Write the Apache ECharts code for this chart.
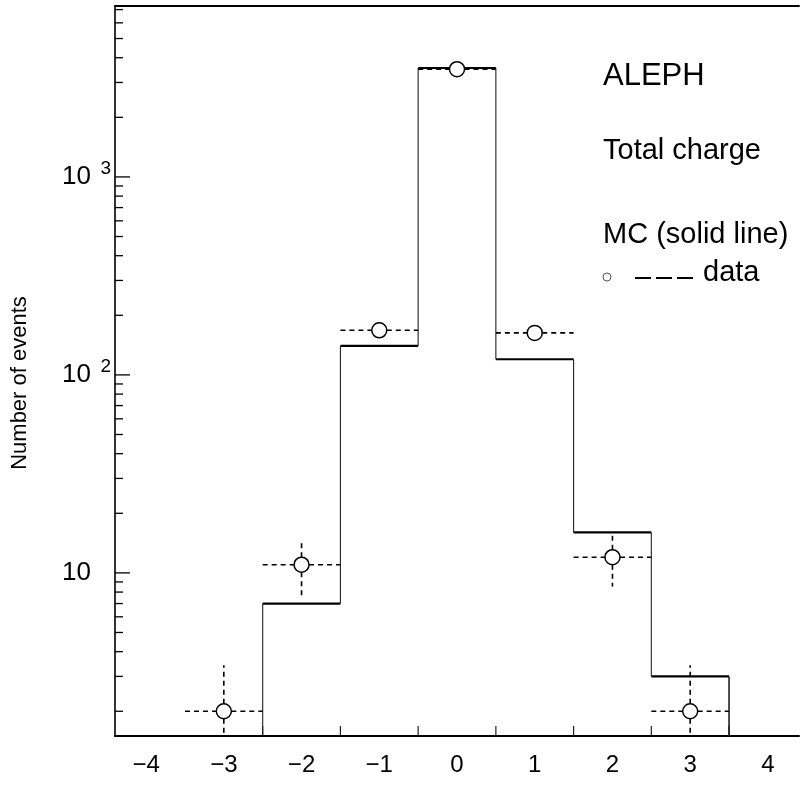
<!DOCTYPE html>
<html>
<head>
<meta charset="utf-8">
<script src="https://cdn.jsdelivr.net/npm/echarts@6/dist/echarts.min.js"></script>
<style>
  html, body { margin: 0; padding: 0; background: #fff; }
  #chart { width: 802px; height: 790px; }
</style>
</head>
<body>
<div id="chart"></div>
<script>
// Total charge distribution, one bin per integer charge
const binCenters = [-3, -2, -1, 0, 1, 2, 3];
const mcCounts   = [null, 7, 140, 3550, 120, 16, 3];   // MC histogram (solid line)
const dataCounts = [2, 11, 168, 3500, 163, 12, 2];      // measured events (circles, dashed)

// Axis ranges and tick positions
const X_MIN = -4.4, X_MAX = 4.4;
const Y_MIN = 1.5, Y_MAX = 7300;
const xTickValues = [-2.5, -1.5, -0.5, 0.5, 1.5, 2.5, 3.5];
const yMajorTicks = [10, 100, 1000];
const yMinorTicks = [2, 3, 4, 5, 6, 7, 8, 9,
                     20, 30, 40, 50, 60, 70, 80, 90,
                     200, 300, 400, 500, 600, 700, 800, 900,
                     2000, 3000, 4000, 5000, 6000, 7000];

const FONT = "'Liberation Sans', Arial, sans-serif";
const INK = '#000';

const chart = echarts.init(document.getElementById('chart'), null, { renderer: 'canvas' });

function isPow10(v) {
  const l = Math.log10(v);
  return Math.abs(l - Math.round(l)) < 1e-6;
}

// MC histogram: thick bin tops, thin risers between neighbouring bins
const mcBins = [];
binCenters.forEach((c, i) => { if (mcCounts[i] != null) mcBins.push(i); });

function renderMC(params, api) {
  const i = mcBins[params.dataIndex];
  const c = binCenters[i];
  const v = mcCounts[i];
  const leftV = (i > 0 && mcCounts[i - 1] != null) ? mcCounts[i - 1] : Y_MIN;
  const isLast = params.dataIndex === mcBins.length - 1;
  const a = api.coord([c - 0.5, v]);
  const b = api.coord([c + 0.5, v]);
  const children = [
    { type: 'line', shape: { x1: a[0], y1: a[1], x2: b[0], y2: b[1] },
      style: { stroke: INK, lineWidth: 2.2 } },
  ];
  const l0 = api.coord([c - 0.5, leftV]);
  children.push({ type: 'line', shape: { x1: a[0], y1: a[1], x2: l0[0], y2: l0[1] },
    style: { stroke: '#222', lineWidth: 1.1 } });
  if (isLast) {
    const r0 = api.coord([c + 0.5, Y_MIN]);
    children.push({ type: 'line', shape: { x1: b[0], y1: b[1], x2: r0[0], y2: r0[1] },
      style: { stroke: '#111', lineWidth: 1.5 } });
  }
  return { type: 'group', children };
}

// Data points: circle, dashed bin-width bar and dashed sqrt(N) error bar
function renderData(params, api) {
  const c = api.value(0);
  const n = api.value(1);
  const err = Math.sqrt(n);
  const r = 7.5;
  const p = api.coord([c, n]);
  const lft = api.coord([c - 0.5, n]);
  const rgt = api.coord([c + 0.5, n]);
  const top = api.coord([c, Math.min(n + err, Y_MAX)]);
  const bot = api.coord([c, Math.max(n - err, Y_MIN)]);
  const dash = { stroke: INK, lineWidth: 1.6, lineDash: [5, 4] };
  const children = [
    { type: 'line', shape: { x1: lft[0], y1: lft[1], x2: p[0] - r, y2: p[1] }, style: dash },
    { type: 'line', shape: { x1: p[0] + r, y1: p[1], x2: rgt[0], y2: rgt[1] }, style: dash },
  ];
  if (top[1] < p[1] - r) {
    children.push({ type: 'line', shape: { x1: p[0], y1: p[1] - r, x2: top[0], y2: top[1] }, style: dash });
  }
  if (bot[1] > p[1] + r) {
    children.push({ type: 'line', shape: { x1: p[0], y1: p[1] + r, x2: bot[0], y2: bot[1] }, style: dash });
  }
  children.push({ type: 'circle', shape: { cx: p[0], cy: p[1], r },
    style: { fill: '#fff', stroke: INK, lineWidth: 1.5 } });
  return { type: 'group', children };
}

// Inward ticks on the left axis (decades long, sub-decades short)
function renderYTick(params, api) {
  const v = api.value(1);
  const p = api.coord([X_MIN, v]);
  const len = isPow10(v) ? 15 : 8;
  return { type: 'line', shape: { x1: p[0], y1: p[1], x2: p[0] + len, y2: p[1] },
    style: { stroke: INK, lineWidth: 1.3 } };
}

// Inward ticks on the bottom axis at bin edges
function renderXTick(params, api) {
  const p = api.coord([api.value(0), Y_MIN]);
  return { type: 'line', shape: { x1: p[0], y1: p[1], x2: p[0], y2: p[1] - 10 },
    style: { stroke: '#222', lineWidth: 1.2 } };
}

const option = {
  backgroundColor: '#fff',
  animation: false,
  grid: { left: 115, top: 6, right: 1, bottom: 54, containLabel: false },
  xAxis: [
    {
      type: 'value', position: 'bottom', min: X_MIN, max: X_MAX, splitNumber: 9,
      axisLine: { show: true, onZero: false, lineStyle: { color: INK, width: 2 } },
      axisTick: { show: false },
      splitLine: { show: false },
      axisLabel: {
        margin: 17, fontSize: 24, fontFamily: FONT, color: INK,
        formatter: v => {
          if (Math.abs(v - Math.round(v)) > 1e-6) return '';
          const k = Math.round(v);
          return k < 0 ? '\u2212' + Math.abs(k) : String(k);
        }
      }
    },
    {
      type: 'value', position: 'top', min: X_MIN, max: X_MAX,
      axisLine: { show: true, onZero: false, lineStyle: { color: INK, width: 2 } },
      axisTick: { show: false }, axisLabel: { show: false }, splitLine: { show: false }
    }
  ],
  yAxis: {
    type: 'log', logBase: 10, min: Y_MIN, max: Y_MAX,
    axisLine: { show: true, onZero: false, lineStyle: { color: INK, width: 1.6 } },
    axisTick: { show: false },
    splitLine: { show: false },
    minorTick: { show: false },
    axisLabel: {
      margin: 4, color: INK,
      formatter: v => {
        if (!isPow10(v)) return '';
        const e = Math.round(Math.log10(v));
        if (e < 1) return '';
        return e === 1 ? '{b|10}{s| }' : '{b|10}{s|' + e + '}';
      },
      rich: {
        b: { fontSize: 26, lineHeight: 36, fontFamily: FONT, color: INK },
        s: { fontSize: 19, lineHeight: 16, width: 20, align: 'right',
             verticalAlign: 'top', fontFamily: FONT, color: INK }
      }
    }
  },
  series: [
    {
      type: 'custom', name: 'yticks', renderItem: renderYTick, clip: false, silent: true,
      data: yMajorTicks.concat(yMinorTicks).map(v => [X_MIN, v])
    },
    {
      type: 'custom', name: 'xticks', renderItem: renderXTick, clip: false, silent: true,
      data: xTickValues.map(v => [v, Y_MIN])
    },
    {
      type: 'custom', name: 'MC', renderItem: renderMC, clip: false, silent: true,
      data: mcBins.map(i => [binCenters[i], mcCounts[i]])
    },
    {
      type: 'custom', name: 'data', renderItem: renderData, clip: false, silent: true,
      data: binCenters.map((c, i) => [c, dataCounts[i]])
    }
  ],
  graphic: [
    { type: 'text', x: 20, y: 383, rotation: Math.PI / 2,
      style: { text: 'Number of events', font: '22px ' + FONT, fill: INK,
               align: 'center', verticalAlign: 'middle' } },
    { type: 'text', x: 603, y: 76,
      style: { text: 'ALEPH', font: '31px ' + FONT, fill: INK, align: 'left', verticalAlign: 'middle' } },
    { type: 'text', x: 603, y: 151,
      style: { text: 'Total charge', font: '29px ' + FONT, fill: INK, align: 'left', verticalAlign: 'middle' } },
    { type: 'text', x: 603, y: 235,
      style: { text: 'MC (solid line)', font: '29px ' + FONT, fill: INK, align: 'left', verticalAlign: 'middle' } },
    { type: 'circle', shape: { cx: 607, cy: 277, r: 4 },
      style: { fill: 'none', stroke: '#555', lineWidth: 1 } },
    { type: 'line', shape: { x1: 635, y1: 278, x2: 694, y2: 278 },
      style: { stroke: INK, lineWidth: 2, lineDash: [16, 5] } },
    { type: 'text', x: 703, y: 273,
      style: { text: 'data', font: '29px ' + FONT, fill: INK, align: 'left', verticalAlign: 'middle' } }
  ]
};

chart.setOption(option);
</script>
</body>
</html>
